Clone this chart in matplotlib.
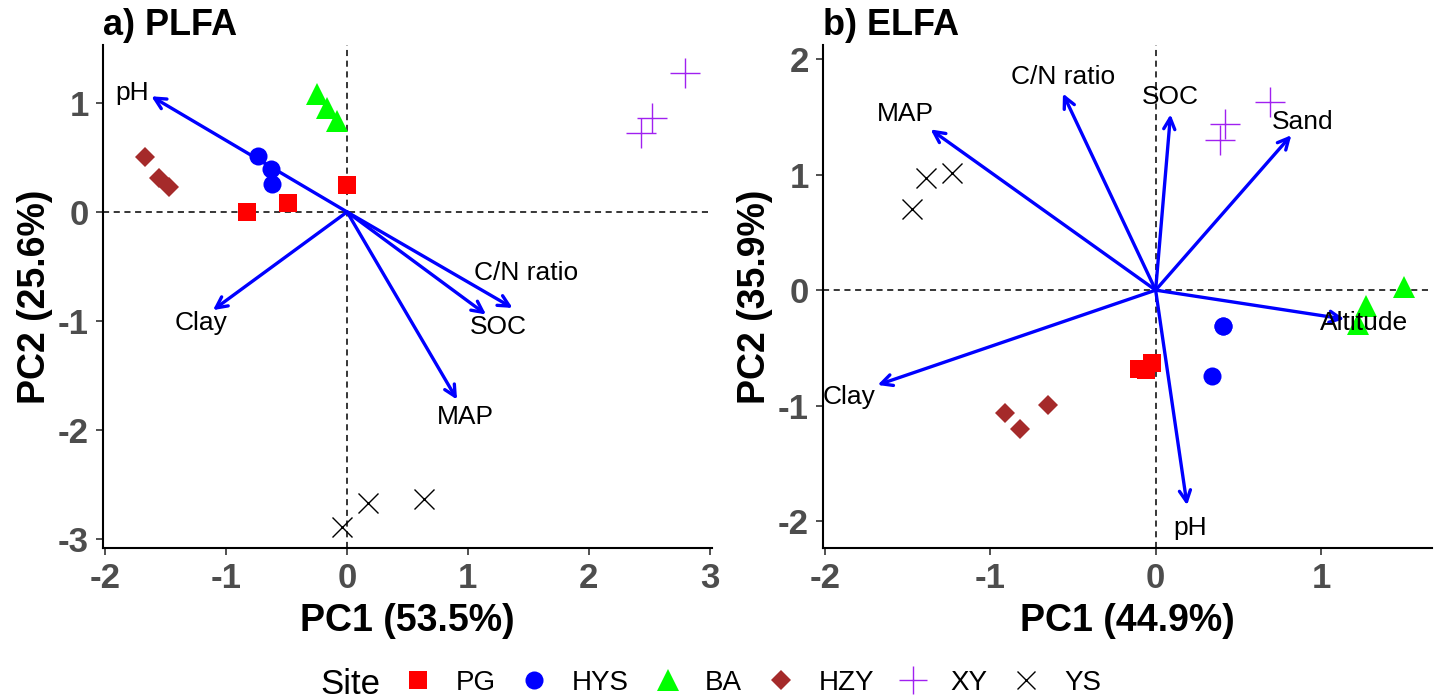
import matplotlib
matplotlib.use("Agg")
import matplotlib.pyplot as plt
from matplotlib.lines import Line2D

plt.rcParams['font.family'] = ['Liberation Sans', 'DejaVu Sans']

sites = ["PG", "HYS", "BA", "HZY", "XY", "YS"]
colors = {"PG": "#FF0000", "HYS": "#0000FF", "BA": "#00FF00",
          "HZY": "#A52A2A", "XY": "#A020F0", "YS": "#000000"}
markers = {"PG": "s", "HYS": "o", "BA": "^", "HZY": "D", "XY": "+", "YS": "x"}
msizes = {"PG": 13, "HYS": 13, "BA": 16, "HZY": 10, "XY": 22, "YS": 15}

# Panel a) PLFA scores
a_x = {"PG": [-0.83, -0.49, 0.00], "HYS": [-0.74, -0.63, -0.62],
       "BA": [-0.25, -0.17, -0.08], "HZY": [-1.67, -1.56, -1.47],
       "XY": [2.43, 2.52, 2.80], "YS": [-0.04, 0.17, 0.64]}
a_y = {"PG": [0.00, 0.08, 0.25], "HYS": [0.51, 0.39, 0.26],
       "BA": [1.08, 0.95, 0.83], "HZY": [0.50, 0.31, 0.23],
       "XY": [0.72, 0.86, 1.27], "YS": [-2.89, -2.67, -2.63]}
a_vars = ["pH", "Clay", "C/N ratio", "SOC", "MAP"]
a_vx = [-1.62, -1.11, 1.37, 1.15, 0.91]
a_vy = [1.06, -0.90, -0.88, -0.94, -1.72]
a_lx = [-1.78, -1.21, 1.48, 1.25, 0.98]
a_ly = [1.09, -1.02, -0.56, -1.05, -1.88]

# Panel b) ELFA scores
b_x = {"PG": [-0.10, -0.06, -0.02], "HYS": [0.41, 0.34, 0.41],
       "BA": [1.50, 1.27, 1.22], "HZY": [-0.91, -0.82, -0.65],
       "XY": [0.69, 0.42, 0.39], "YS": [-1.47, -1.39, -1.23]}
b_y = {"PG": [-0.68, -0.69, -0.63], "HYS": [-0.31, -0.74, -0.31],
       "BA": [0.03, -0.14, -0.29], "HZY": [-1.06, -1.20, -0.99],
       "XY": [1.63, 1.44, 1.30], "YS": [0.70, 0.97, 1.01]}
b_vars = ["MAP", "C/N ratio", "SOC", "Sand", "Altitude", "Clay", "pH"]
b_vx = [-1.36, -0.56, 0.09, 0.82, 1.14, -1.68, 0.19]
b_vy = [1.39, 1.70, 1.52, 1.34, -0.25, -0.82, -1.86]
b_lx = [-1.51, -0.56, 0.09, 0.89, 1.26, -1.85, 0.21]
b_ly = [1.52, 1.84, 1.67, 1.45, -0.28, -0.92, -2.06]

W, H = 1439, 698
fig = plt.figure(figsize=(W / 100, H / 100), dpi=100)

def px_axes(l, r, t, b):
    return fig.add_axes([l / W, (H - b) / H, (r - l) / W, (b - t) / H])

axa = px_axes(103, 712, 45, 548)
axb = px_axes(823, 1432, 45, 548)

def draw(ax, sx, sy, vars_, vx, vy, lx, ly, xlim, ylim, xt, yt, title, xl, yl):
    ax.axhline(0, color="black", ls=(0, (4, 3)), lw=1.1, zorder=1)
    ax.axvline(0, color="black", ls=(0, (4, 3)), lw=1.1, zorder=1)
    for s in sites:
        m = markers[s]
        if m in "+x":
            ax.plot(sx[s], sy[s], ls="none", marker=m, ms=msizes[s],
                    mew=1.0, color=colors[s], zorder=3)
        else:
            ax.plot(sx[s], sy[s], ls="none", marker=m, ms=msizes[s],
                    mew=0, color=colors[s], zorder=3)
    for name, x, y, tx, ty in zip(vars_, vx, vy, lx, ly):
        ax.annotate("", xy=(x, y), xytext=(0, 0),
                    arrowprops=dict(arrowstyle="->,head_length=0.8,head_width=0.4",
                                    color="#0000FF", lw=2.4,
                                    shrinkA=0, shrinkB=0), zorder=4)
        ax.text(tx, ty, name, fontsize=19, ha="center", va="center",
                color="black", zorder=5)
    ax.set_xlim(*xlim)
    ax.set_ylim(*ylim)
    ax.set_xticks(xt)
    ax.set_yticks(yt)
    ax.set_xticklabels([str(v) for v in xt])
    ax.set_yticklabels([str(v) for v in yt])
    for sp in ["top", "right"]:
        ax.spines[sp].set_visible(False)
    for sp in ["left", "bottom"]:
        ax.spines[sp].set_linewidth(1.5)
        ax.spines[sp].set_color("black")
    ax.tick_params(axis="both", length=5, width=1.2, color="#333333",
                   labelsize=25, labelcolor="#4D4D4D")
    ax.tick_params(axis="x", pad=5)
    ax.tick_params(axis="y", pad=5)
    for lab in ax.get_xticklabels() + ax.get_yticklabels():
        lab.set_fontweight("bold")
    ax.set_xlabel(xl, fontsize=27, fontweight="bold", labelpad=6)
    ax.set_ylabel(yl, fontsize=27, fontweight="bold", labelpad=4)
    ax.text(0.0, 1.004, title, transform=ax.transAxes, fontsize=26,
            fontweight="bold", ha="left", va="bottom")

draw(axa, a_x, a_y, a_vars, a_vx, a_vy, a_lx, a_ly,
     (-2.02, 3.02), (-3.08, 1.53), [-2, -1, 0, 1, 2, 3], [-3, -2, -1, 0, 1],
     "a) PLFA", "PC1 (53.5%)", "PC2 (25.6%)")
draw(axb, b_x, b_y, b_vars, b_vx, b_vy, b_lx, b_ly,
     (-2.01, 1.67), (-2.23, 2.12), [-2, -1, 0, 1], [-2, -1, 0, 1, 2],
     "b) ELFA", "PC1 (44.9%)", "PC2 (35.9%)")

handles = []
for s in sites:
    m = markers[s]
    if m in "+x":
        h = Line2D([], [], ls="none", marker=m, ms=msizes[s] * 0.9,
                   mew=1.0, color=colors[s])
    else:
        h = Line2D([], [], ls="none", marker=m, ms=msizes[s],
                   mew=0, color=colors[s])
    handles.append(h)

fig.text(380 / W, 1 - 684 / H, "Site", fontsize=25, ha="right", va="center")
fig.legend(handles, sites, loc="center left",
           bbox_to_anchor=(397 / W, 1 - 683 / H), ncol=6, frameon=False,
           fontsize=20, handletextpad=0.6, columnspacing=0.65,
           handlelength=1.5, borderaxespad=0, borderpad=0)

fig.savefig("out.png", dpi=100)
